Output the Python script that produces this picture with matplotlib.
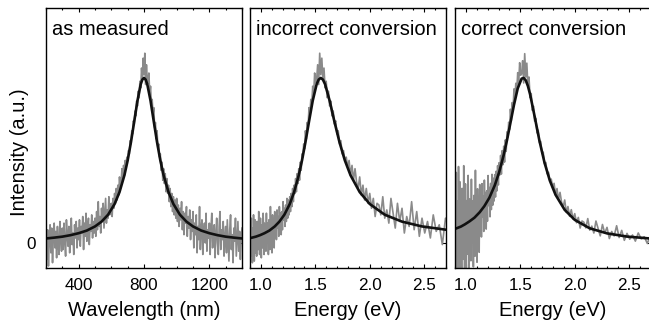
import numpy as np
import matplotlib
matplotlib.use('Agg')
from matplotlib import pyplot as plt
from matplotlib.ticker import MultipleLocator

plt.rcParams['font.family'] = ['Liberation Sans', 'DejaVu Sans']

# measured spectrum, 5 nm steps from 200 to 1400 nm (peak normalised to ~1)
wavelength = np.arange(200, 1401, 5)
intensity = np.array([
    0.05, -0.10, 0.08, -0.14, 0.02, 0.11, -0.06, 0.09, -0.12, 0.04, 0.12, -0.03, 0.07, -0.09, 0.10, 0.00, -0.07, 0.13, 0.03, -0.05,
    0.09, -0.04, 0.12, 0.01, -0.08, 0.14, 0.05, -0.02, 0.10, -0.06, 0.08, 0.15, -0.01, 0.06, -0.07, 0.11, 0.03, 0.13, -0.03, 0.09,
    0.02, 0.14, -0.02, 0.10, 0.06, 0.16, -0.04, 0.12, 0.04, 0.18, 0.01, 0.09, 0.15, -0.01, 0.11, 0.07, 0.17, 0.03, 0.13, 0.06,
    0.15, 0.04, 0.19, 0.08, 0.25, 0.10, 0.16, 0.06, 0.21, 0.13, 0.24, 0.09, 0.18, 0.27, 0.12, 0.20, 0.15, 0.28, 0.17, 0.23,
    0.24, 0.16, 0.27, 0.21, 0.30, 0.24, 0.33, 0.26, 0.35, 0.29, 0.40, 0.33, 0.37, 0.45, 0.38, 0.47, 0.41, 0.50, 0.46, 0.52,
    0.50, 0.56, 0.54, 0.62, 0.60, 0.68, 0.66, 0.74, 0.72, 0.80, 0.77, 0.86, 0.83, 0.92, 0.88, 0.98, 0.94, 1.06, 0.99, 1.12,
    1.02, 1.15, 0.96, 1.08, 0.99, 0.97, 1.03, 0.90, 0.95, 0.84, 0.87, 0.78, 0.82, 0.70, 0.73, 0.63, 0.68, 0.57, 0.60, 0.52,
    0.54, 0.44, 0.49, 0.38, 0.45, 0.36, 0.42, 0.31, 0.39, 0.30, 0.35, 0.25, 0.33, 0.22, 0.30, 0.19, 0.28, 0.17, 0.26, 0.15,
    0.27, 0.13, 0.23, 0.10, 0.21, 0.14, 0.25, 0.08, 0.19, 0.05, 0.18, 0.12, 0.22, 0.04, 0.16, 0.09, 0.20, 0.02, 0.14, 0.07,
    0.19, -0.03, 0.12, 0.05, 0.17, -0.06, 0.10, 0.02, 0.22, -0.04, 0.09, 0.14, -0.07, 0.07, 0.12, 0.00, 0.18, -0.05, 0.08, 0.03,
    0.12, -0.07, 0.09, 0.18, -0.03, 0.06, 0.11, -0.09, 0.05, 0.15, 0.00, -0.07, 0.10, 0.19, -0.04, 0.08, 0.02, 0.13, -0.08, 0.04,
    0.10, -0.06, 0.14, 0.02, -0.11, 0.08, 0.17, -0.04, 0.05, -0.12, 0.09, 0.01, 0.15, -0.08, 0.03, 0.13, -0.05, 0.07, -0.10, 0.04, 0.09,
])

# fitted curve
fit_wavelength = np.array([200, 250, 300, 350, 400, 450, 500, 540, 580, 620, 650, 680, 700, 720, 740, 760, 780, 790, 800,
                           810, 820, 840, 860, 880, 900, 920, 950, 980, 1020, 1060, 1100, 1150, 1200, 1250, 1300, 1350, 1400])
fit_intensity = np.array([0.027, 0.032, 0.038, 0.047, 0.059, 0.075, 0.100, 0.129, 0.171, 0.236, 0.308, 0.410, 0.500, 0.610,
                          0.735, 0.862, 0.962, 0.990, 1.000, 0.990, 0.962, 0.862, 0.735, 0.610, 0.500, 0.410, 0.308, 0.236,
                          0.171, 0.129, 0.100, 0.075, 0.059, 0.047, 0.038, 0.032, 0.027])

titles = ["as measured", "incorrect conversion", "correct conversion"]
xlabels = ["Wavelength (nm)", "Energy (eV)", "Energy (eV)"]

# unit conversions
hc = 1239.84
energy = hc / wavelength
fit_energy = hc / fit_wavelength
jac = fit_intensity * fit_wavelength**2
norm = jac.max()
intensity_corr = intensity * wavelength**2 / norm
fit_corr = jac / norm

series = [
    (wavelength, intensity, fit_wavelength, fit_intensity),
    (energy, intensity, fit_energy, fit_intensity),
    (energy, intensity_corr, fit_energy, fit_corr),
]

W, H = 649, 329
fig = plt.figure(figsize=(W / 100, H / 100), dpi=100)
lefts = [46, 250, 455]
axw, top, bottom = 196, 8, 268

for i, (x, y, fx, fy) in enumerate(series):
    ax = fig.add_axes([lefts[i] / W, 1 - bottom / H, axw / W, (bottom - top) / H])
    ax.plot(x, y, color='#8a8a8a', lw=1.2)
    ax.plot(fx, fy, color='#111111', lw=1.9)
    ax.set_ylim(-0.152, 1.424)
    if i == 0:
        ax.set_xlim(200, 1400)
        ax.xaxis.set_major_locator(MultipleLocator(400))
        ax.xaxis.set_minor_locator(MultipleLocator(100))
    else:
        ax.set_xlim(0.9, 2.7)
        ax.xaxis.set_major_locator(MultipleLocator(0.5))
        ax.xaxis.set_minor_locator(MultipleLocator(0.1))
    ax.set_yticks([0])
    if i > 0:
        ax.set_yticklabels([])
    ax.tick_params(which='both', direction='in', top=True, right=True, width=0.8,
                   labelsize=12.3, pad=7)
    ax.tick_params(which='major', length=3)
    ax.tick_params(which='minor', length=1.6)
    for s in ax.spines.values():
        s.set_linewidth(1.0)
    ax.set_xlabel(xlabels[i], fontsize=14.5, labelpad=6)
    ax.text(6 / axw, (bottom - 35) / (bottom - top), titles[i], transform=ax.transAxes,
            fontsize=14.5, ha='left', va='baseline')

fig.text(20 / W, 1 - 152 / H, "Intensity (a.u.)", rotation=90, fontsize=14.5,
         ha='center', va='center')

plt.savefig('out.png', dpi=100)
